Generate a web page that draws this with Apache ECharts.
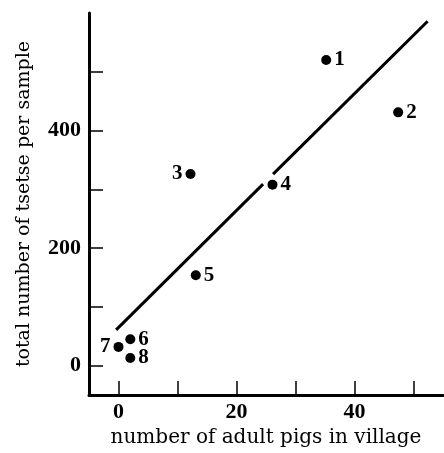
<!DOCTYPE html>
<html>
<head>
<meta charset="utf-8">
<script src="https://cdn.jsdelivr.net/npm/echarts@6/dist/echarts.min.js"></script>
<style>
  html, body { margin: 0; padding: 0; background: #fff; }
  #chart { width: 444px; height: 453px; }
</style>
</head>
<body>
<div id="chart"></div>
<script>
// villages (point labels) and measured values
const villages = ["1", "2", "3", "4", "5", "6", "7", "8"];
const pigs = [35.2, 47.4, 12.2, 26.1, 13.1, 2.0, 0, 2.0];
const tsetse = [520, 431, 326, 308, 154, 45, 32, 13];

// fitted line, drawn in two pieces (broken around village 4)
const fitLowX = [-0.4, 24.5];
const fitLowY = [61, 309];
const fitHighX = [26.2, 52.4];
const fitHighY = [326, 586];

const xTicks = [0, 10, 20, 30, 40, 50];
const xLabels = [0, 20, 40];
const yTicks = [0, 100, 200, 300, 400, 500];
const yLabels = [0, 200, 400];

const labelsOnLeft = ["3", "7"];

const chart = echarts.init(document.getElementById("chart"));

const points = villages.map((v, i) => ({
  value: [pigs[i], tsetse[i]],
  name: v,
  label: { position: labelsOnLeft.includes(v) ? "left" : "right" }
}));

const lineStyle = { color: "#000", width: 3 };

const option = {
  animation: false,
  backgroundColor: "#fff",
  grid: { left: 89, right: 1, top: 13, bottom: 56 },
  xAxis: {
    type: "value",
    min: -5,
    max: 55,
    name: "number of adult pigs in village",
    nameLocation: "middle",
    nameGap: 24,
    nameTextStyle: { fontFamily: "DejaVu Serif", fontSize: 20, color: "#000" },
    axisLine: { show: true, onZero: false, lineStyle: { color: "#000", width: 3 } },
    axisTick: { show: true, inside: true, length: 14, customValues: xTicks, lineStyle: { color: "#000", width: 1.5 } },
    axisLabel: {
      customValues: xLabels,
      margin: 6,
      fontFamily: "Liberation Serif",
      fontWeight: "bold",
      fontSize: 22,
      color: "#000"
    },
    splitLine: { show: false }
  },
  yAxis: {
    type: "value",
    min: -50,
    max: 600,
    name: "total number of tsetse per sample",
    nameLocation: "middle",
    nameGap: 55,
    nameTextStyle: { fontFamily: "DejaVu Serif", fontSize: 19, color: "#000" },
    axisLine: { show: true, onZero: false, lineStyle: { color: "#000", width: 3 } },
    axisTick: { show: true, inside: true, length: 14, customValues: yTicks, lineStyle: { color: "#000", width: 1.5 } },
    axisLabel: {
      customValues: yLabels,
      margin: 8,
      fontFamily: "Liberation Serif",
      fontWeight: "bold",
      fontSize: 22,
      color: "#000"
    },
    splitLine: { show: false }
  },
  series: [
    {
      type: "line",
      data: fitLowX.map((x, i) => [x, fitLowY[i]]),
      showSymbol: false,
      lineStyle: lineStyle
    },
    {
      type: "line",
      data: fitHighX.map((x, i) => [x, fitHighY[i]]),
      showSymbol: false,
      lineStyle: lineStyle
    },
    {
      type: "scatter",
      data: points,
      symbolSize: 10,
      itemStyle: { color: "#000", opacity: 1 },
      label: {
        show: true,
        formatter: "{b}",
        distance: 3,
        fontFamily: "Liberation Serif",
        fontWeight: "bold",
        fontSize: 21,
        color: "#000"
      }
    }
  ]
};

chart.setOption(option);
</script>
</body>
</html>
